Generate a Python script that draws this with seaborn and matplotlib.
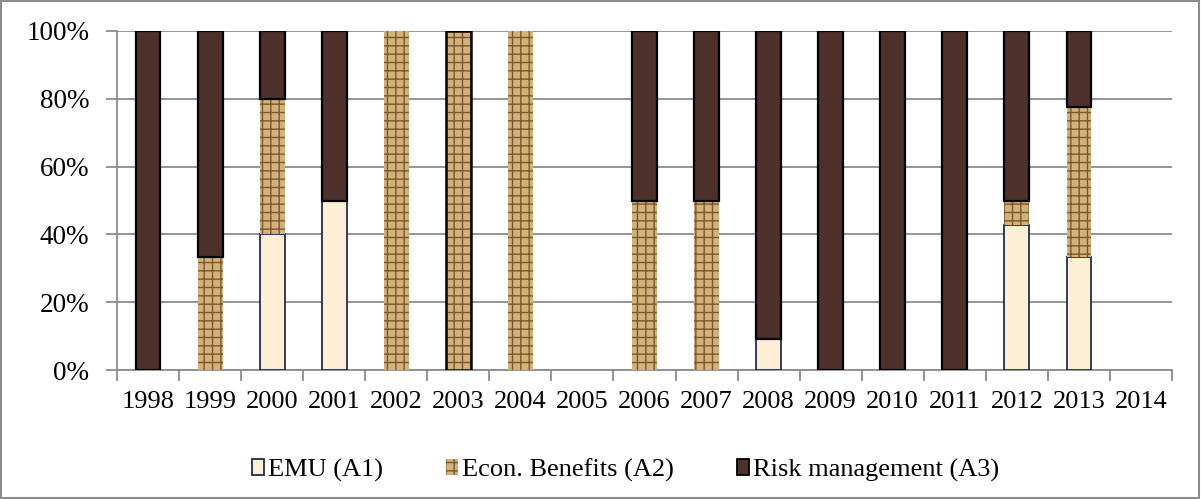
import matplotlib
matplotlib.use("Agg")
import matplotlib.pyplot as plt
from matplotlib.patches import Patch, Rectangle
from matplotlib.ticker import FixedLocator, PercentFormatter
import numpy as np
import pandas as pd
import seaborn as sns

# data (share of articles per year, %)
years = [str(y) for y in range(1998, 2015)]
emu = [0, 0, 40, 50, 0, 0, 0, 0, 0, 0, 9.1, 0, 0, 0, 42.9, 33.3, 0]
econ = [0, 33.3, 40, 0, 100, 100, 100, 0, 50, 50, 0, 0, 0, 0, 7.1, 44.4, 0]
risk = [100, 66.7, 20, 50, 0, 0, 0, 0, 50, 50, 90.9, 100, 100, 100, 50, 22.2, 0]
labels = ["EMU (A1)", "Econ. Benefits (A2)", "Risk management (A3)"]

df = pd.DataFrame({"year": years, "emu": emu, "econ": econ, "risk": risk})
df["b2"] = df["emu"]
df["b3"] = df["emu"] + df["econ"]

c_emu, e_emu = "#FCEFD6", "#1F2F4A"
c_econ, t_econ = "#D2B27A", "#7A5A2C"
c_risk, e_risk = "#4F312B", "#000000"

sns.set_theme(style="white")
plt.rcParams["font.family"] = ["Liberation Serif", "DejaVu Serif"]
plt.rcParams["text.color"] = "black"
plt.rcParams["hatch.linewidth"] = 1.0

fig = plt.figure(figsize=(12.01, 4.99), dpi=100)
ax = fig.add_axes([117 / 1201, 1 - 370 / 499, (1172 - 117) / 1201, (370 - 31) / 499])

w = 0.4
sns.barplot(data=df, x="year", y="emu", order=years, color=c_emu, width=w,
            saturation=1, edgecolor=e_emu, linewidth=1.3, ax=ax, zorder=3)
sns.barplot(data=df, x="year", y="econ", order=years, color=c_econ, width=w,
            saturation=1, bottom=df["b2"].tolist(), linewidth=0, ax=ax, zorder=3)
# burlap-like texture on the tan bars
for p in ax.containers[1]:
    p.set_hatch("++")
    p.set_edgecolor(t_econ)
    p.set_linewidth(0)
sns.barplot(data=df, x="year", y="risk", order=years, color=c_risk, width=w,
            saturation=1, bottom=df["b3"].tolist(), edgecolor=e_risk,
            linewidth=1.6, ax=ax, zorder=3)

# empty segments should not leave an outline behind
for cont in ax.containers:
    for p in cont:
        if p.get_height() == 0:
            p.set_visible(False)

# 2003 bar carries a black outline in the original
i03 = years.index("2003")
ax.bar(i03, econ[i03], bottom=emu[i03], width=w, facecolor="none",
       edgecolor="black", linewidth=1.8, zorder=4)

n = len(years)
ax.set_xlim(-0.5, n - 0.5)
ax.set_ylim(0, 100)
ax.set_xlabel("")
ax.set_ylabel("")
ax.yaxis.set_major_locator(FixedLocator([0, 20, 40, 60, 80, 100]))
ax.yaxis.set_major_formatter(PercentFormatter(decimals=0))
ax.grid(axis="y", color="#8C8C8C", linewidth=1.3, zorder=0)
ax.set_axisbelow(True)

ax.xaxis.set_minor_locator(FixedLocator(np.arange(-0.5, n, 1)))
ax.tick_params(axis="x", which="major", length=0, labelsize=19, pad=15,
               labelcolor="black")
ax.tick_params(axis="x", which="minor", length=8, width=1.3, color="#8C8C8C", bottom=True)
ax.tick_params(axis="y", which="major", length=8, width=1.3, color="#8C8C8C",
               labelsize=19.5, pad=12, left=True, labelcolor="black")

for s in ["top", "right"]:
    ax.spines[s].set_visible(False)
for s in ["left", "bottom"]:
    ax.spines[s].set_color("#8C8C8C")
    ax.spines[s].set_linewidth(1.3)

handles = [
    Patch(facecolor=c_emu, edgecolor=e_emu, linewidth=1.3),
    Patch(facecolor=c_econ, edgecolor=t_econ, hatch="++", linewidth=0),
    Patch(facecolor=c_risk, edgecolor=e_risk, linewidth=1.3),
]
fig.legend(handles, labels, loc="center", bbox_to_anchor=(0.521, 1 - 470 / 499),
           ncol=3, frameon=False, fontsize=19, handlelength=0.45, handleheight=0.6,
           handletextpad=0.15, columnspacing=2.4, labelcolor="black")

fig.patches.append(Rectangle((0.001, 0.002), 0.997, 0.996, transform=fig.transFigure,
                             fill=False, edgecolor="#8C8C8C", linewidth=1.5))

fig.savefig("out.png", dpi=100)
